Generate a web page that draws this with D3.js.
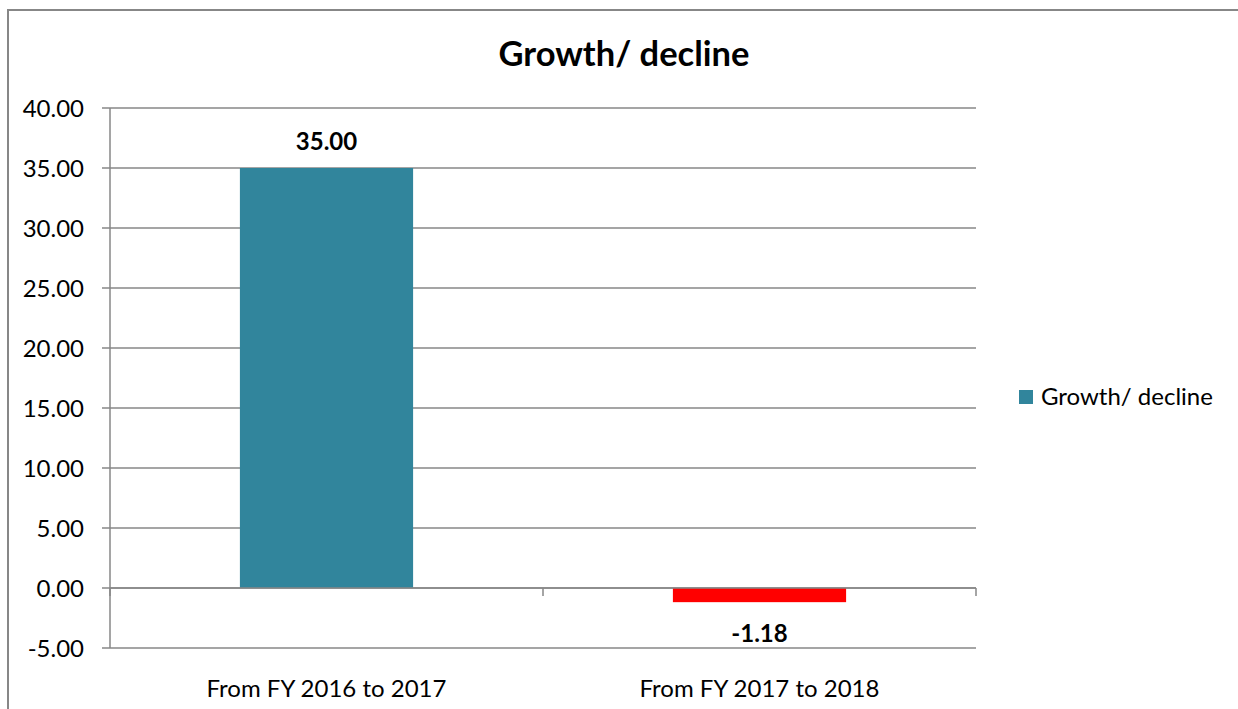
<html>
<head>
<meta charset="utf-8">
<title>Growth/ decline</title>
<style>
  body { margin: 0; background: #fff; }
  svg text { font-family: Lato, "Liberation Sans", sans-serif; fill: #000; }
</style>
</head>
<body>
<script src="https://cdn.jsdelivr.net/npm/d3@7/dist/d3.min.js"></script>
<script>
    var w = 1238, h = 709;
    var categories = ['From FY 2016 to 2017', 'From FY 2017 to 2018'];
    var values = [35.00, -1.18];
    var barColors = ['#31859C', '#FF0000'];
    var yTicks = [-5, 0, 5, 10, 15, 20, 25, 30, 35, 40];
    var seriesName = 'Growth/ decline';

    var plotLeft = 110, plotRight = 976, plotTop = 108, plotBottom = 648;
    var axisColor = '#878787';

    var svg = d3.select('body').append('svg')
        .attr('width', w)
        .attr('height', h);

    // outer chart border
    svg.append('rect')
        .attr('x', 8).attr('y', 10)
        .attr('width', w + 10).attr('height', h + 10)
        .attr('fill', 'none')
        .attr('stroke', axisColor)
        .attr('stroke-width', 2);

    var x = d3.scaleBand()
        .domain(categories)
        .range([plotLeft, plotRight])
        .paddingInner(0.6)
        .paddingOuter(0.3);

    var y = d3.scaleLinear()
        .domain([-5, 40])
        .range([plotBottom, plotTop]);

    // gridlines
    svg.append('g').selectAll('line')
        .data(yTicks)
        .enter().append('line')
        .attr('x1', plotLeft - 8).attr('x2', plotRight)
        .attr('y1', function (d) { return y(d); })
        .attr('y2', function (d) { return y(d); })
        .attr('stroke', axisColor)
        .attr('stroke-width', 1.5);

    // y axis labels
    svg.append('g').selectAll('text')
        .data(yTicks)
        .enter().append('text')
        .attr('x', 84)
        .attr('y', function (d) { return y(d); })
        .attr('dy', '0.36em')
        .attr('text-anchor', 'end')
        .style('font-size', '24px')
        .text(function (d) { return d.toFixed(2); });

    // y axis line
    svg.append('line')
        .attr('x1', plotLeft).attr('x2', plotLeft)
        .attr('y1', plotTop).attr('y2', plotBottom)
        .attr('stroke', axisColor)
        .attr('stroke-width', 1.5);

    // bars
    svg.append('g').selectAll('rect')
        .data(values)
        .enter().append('rect')
        .attr('x', function (d, i) { return x(categories[i]); })
        .attr('width', x.bandwidth())
        .attr('y', function (d) { return y(Math.max(d, 0)); })
        .attr('height', function (d) { return Math.abs(y(d) - y(0)); })
        .attr('fill', function (d, i) { return barColors[i]; });

    // category axis at zero
    svg.append('line')
        .attr('x1', plotLeft).attr('x2', plotRight)
        .attr('y1', y(0)).attr('y2', y(0))
        .attr('stroke', axisColor)
        .attr('stroke-width', 1.5);

    var catEdges = [plotLeft].concat(categories.map(function (c) { return x(c) + x.bandwidth() / 2 + x.step() / 2; }));
    svg.append('g').selectAll('line')
        .data(catEdges)
        .enter().append('line')
        .attr('x1', function (d) { return d; })
        .attr('x2', function (d) { return d; })
        .attr('y1', y(0)).attr('y2', y(0) + 8)
        .attr('stroke', axisColor)
        .attr('stroke-width', 1.5);

    // category labels
    svg.append('g').selectAll('text')
        .data(categories)
        .enter().append('text')
        .attr('x', function (d) { return x(d) + x.bandwidth() / 2; })
        .attr('y', 697)
        .attr('text-anchor', 'middle')
        .style('font-size', '24px')
        .text(function (d) { return d; });

    // value labels
    svg.append('g').selectAll('text')
        .data(values)
        .enter().append('text')
        .attr('x', function (d, i) { return x(categories[i]) + x.bandwidth() / 2; })
        .attr('y', function (d) { return d >= 0 ? y(d) - 18 : y(d) + 40; })
        .attr('text-anchor', 'middle')
        .style('font-size', '24px')
        .style('font-weight', 'bold')
        .text(function (d) { return d.toFixed(2); });

    // title
    svg.append('text')
        .attr('x', 624)
        .attr('y', 66)
        .attr('text-anchor', 'middle')
        .style('font-size', '34.5px')
        .style('font-weight', 'bold')
        .text(seriesName);

    // legend
    svg.append('rect')
        .attr('x', 1019).attr('y', 390)
        .attr('width', 14).attr('height', 14)
        .attr('fill', barColors[0]);
    svg.append('text')
        .attr('x', 1041).attr('y', 405)
        .style('font-size', '24px')
        .text(seriesName);
</script>
</body>
</html>
